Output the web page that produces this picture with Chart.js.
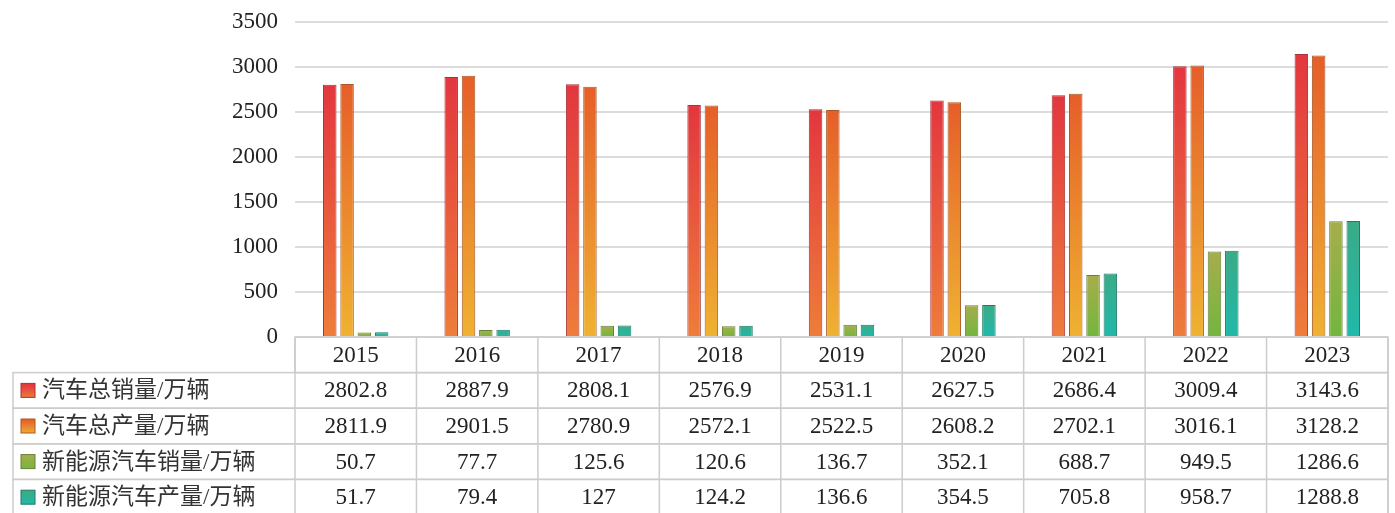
<!DOCTYPE html>
<html>
<head>
<meta charset="utf-8">
<script src="https://cdn.jsdelivr.net/npm/chart.js@4.4.1/dist/chart.umd.min.js"></script>
<style>
  body { margin: 0; background: #fff; }
  #wrap { width: 1395px; height: 513px; position: relative; }
</style>
</head>
<body>
<div id="wrap"><canvas id="carChart"></canvas></div>
<script>
// data
const years = ['2015', '2016', '2017', '2018', '2019', '2020', '2021', '2022', '2023'];
const seriesNames = ['汽车总销量/万辆', '汽车总产量/万辆', '新能源汽车销量/万辆', '新能源汽车产量/万辆'];
const totalSales = [2802.8, 2887.9, 2808.1, 2576.9, 2531.1, 2627.5, 2686.4, 3009.4, 3143.6];
const totalProd = [2811.9, 2901.5, 2780.9, 2572.1, 2522.5, 2608.2, 2702.1, 3016.1, 3128.2];
const nevSales = [50.7, 77.7, 125.6, 120.6, 136.7, 352.1, 688.7, 949.5, 1286.6];
const nevProd = [51.7, 79.4, 127, 124.2, 136.6, 354.5, 705.8, 958.7, 1288.8];
const yTicks = [0, 500, 1000, 1500, 2000, 2500, 3000, 3500];

// top colour, bottom colour, border
const palette = [
    ['#e3363f', '#ee7d3a', '#a8333a'],
    ['#e65e2a', '#efb232', '#a85a28'],
    ['#a7ad4b', '#72b63f', '#66803a'],
    ['#3bab86', '#1fb9aa', '#1f7a6a']
];

const FONT = '"Liberation Serif", "Noto Sans CJK SC", serif';

function barGradient(i) {
    return function (ctx) {
        const chart = ctx.chart;
        if (!chart.chartArea) return palette[i][1];
        const y = chart.scales.y;
        const top = y.getPixelForValue(ctx.raw);
        const bottom = y.getPixelForValue(0);
        const g = chart.ctx.createLinearGradient(0, top, 0, bottom);
        g.addColorStop(0, palette[i][0]);
        g.addColorStop(1, palette[i][1]);
        return g;
    };
}

const allValues = [totalSales, totalProd, nevSales, nevProd];

// data table under the plot
const tablePlugin = {
    id: 'dataTable',
    afterDraw(chart) {
        const c = chart.ctx;
        const area = chart.chartArea;
        const x = chart.scales.x;
        const colW = (area.right - area.left) / years.length;
        const rowH = 35.6;
        const tableLeft = 13;
        c.save();
        c.strokeStyle = '#cccccc';
        c.lineWidth = 1.5;
        // header row
        c.strokeRect(area.left, area.bottom, area.right - area.left, rowH);
        // body
        for (let r = 0; r < seriesNames.length; r++) {
            const top = area.bottom + rowH * (r + 1);
            c.strokeRect(tableLeft, top, area.right - tableLeft, rowH);
        }
        // column lines
        for (let i = 0; i <= years.length; i++) {
            const px = area.left + colW * i;
            c.beginPath();
            c.moveTo(px, area.bottom);
            c.lineTo(px, area.bottom + rowH * (seriesNames.length + 1));
            c.stroke();
        }
        c.fillStyle = '#222';
        c.font = '23px ' + FONT;
        c.textAlign = 'center';
        c.textBaseline = 'middle';
        years.forEach((yr, i) => {
            c.fillText(yr, x.getPixelForValue(i), area.bottom + rowH / 2 + 1);
        });
        for (let r = 0; r < seriesNames.length; r++) {
            const cy = area.bottom + rowH * (r + 1.5) + 1;
            allValues[r].forEach((v, i) => {
                c.fillStyle = '#222';
                c.textAlign = 'center';
                c.fillText(String(v), x.getPixelForValue(i), cy);
            });
            // legend key
            const g = c.createLinearGradient(0, cy - 7, 0, cy + 7);
            g.addColorStop(0, palette[r][0]);
            g.addColorStop(1, palette[r][1]);
            c.fillStyle = g;
            c.fillRect(21, cy - 8, 14, 14);
            c.strokeStyle = palette[r][2];
            c.lineWidth = 1;
            c.strokeRect(21, cy - 8, 14, 14);
            c.strokeStyle = '#cccccc';
            c.lineWidth = 1.5;
            c.fillStyle = '#333';
            c.textAlign = 'left';
            c.fillText(seriesNames[r], 42, cy);
        }
        c.restore();
    }
};

const ctx = document.getElementById('carChart').getContext('2d');
new Chart(ctx, {
    type: 'bar',
    data: {
        labels: years,
        datasets: allValues.map((vals, i) => ({
            label: seriesNames[i],
            data: vals,
            backgroundColor: barGradient(i),
            borderColor: palette[i][2],
            borderWidth: 1,
            categoryPercentage: 0.57,
            barPercentage: 0.78
        }))
    },
    options: {
        responsive: true,
        maintainAspectRatio: false,
        animation: false,
        layout: { padding: { top: 22, bottom: 176, right: 7, left: 0 } },
        plugins: {
            legend: { display: false },
            tooltip: { enabled: false }
        },
        scales: {
            x: { display: false },
            y: {
                min: 0,
                max: 3500,
                afterBuildTicks(scale) {
                    scale.ticks = yTicks.map(v => ({ value: v }));
                },
                afterFit(scale) { scale.width = 295; },
                border: { display: false },
                // invisible tick marks give the gap between labels and plot
                grid: { color: '#dcdcdc', lineWidth: 2, drawTicks: true, tickLength: 17, tickColor: 'rgba(0,0,0,0)' },
                ticks: {
                    padding: 0,
                    color: '#222',
                    font: { family: FONT, size: 23 },
                    callback: v => String(v)
                }
            }
        }
    },
    plugins: [tablePlugin]
});
</script>
</body>
</html>
